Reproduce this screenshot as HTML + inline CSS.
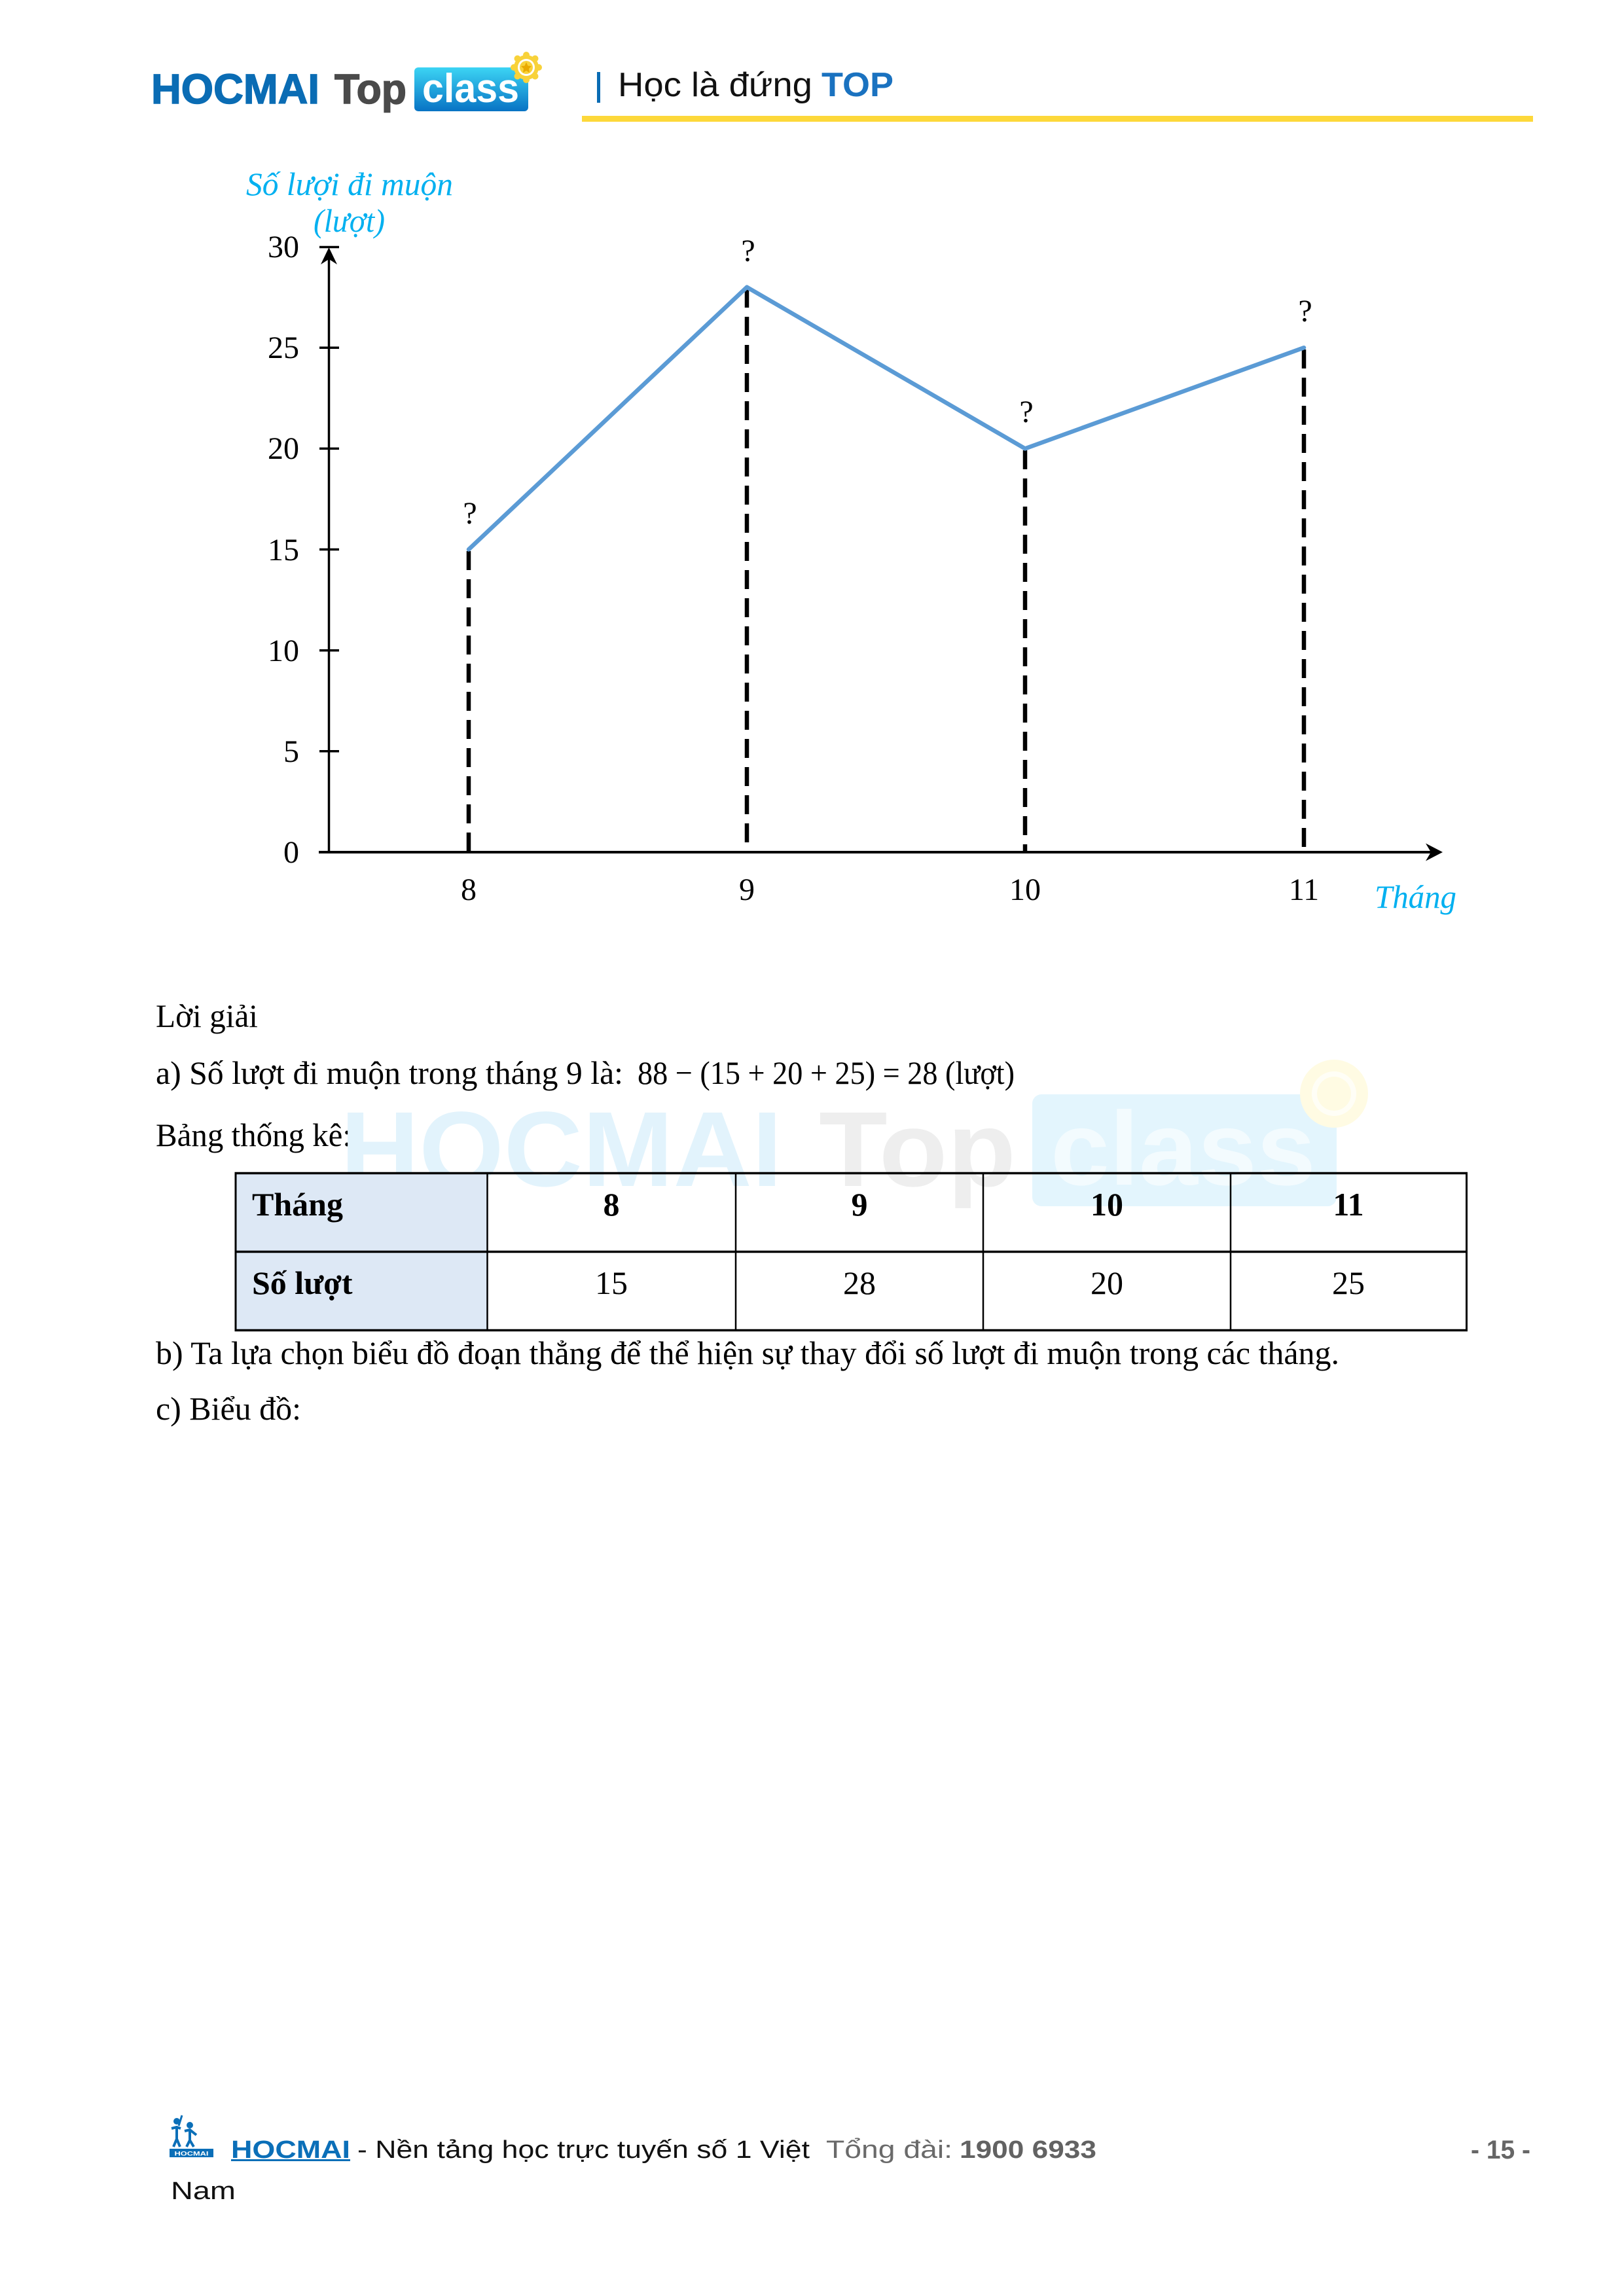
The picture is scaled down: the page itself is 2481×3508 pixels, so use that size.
<!DOCTYPE html>
<html>
<head>
<meta charset="utf-8">
<style>
html,body{margin:0;padding:0;background:#fff;}
svg{display:block;}
.serif{font-family:"Liberation Serif","Times New Roman",serif;}
.sans{font-family:"Liberation Sans",Arial,sans-serif;}
</style>
</head>
<body>
<svg width="2481" height="3508" viewBox="0 0 2481 3508" xmlns="http://www.w3.org/2000/svg">
<defs>
  <linearGradient id="cg" x1="0" y1="0" x2="0" y2="1">
    <stop offset="0" stop-color="#3cd4f4"/>
    <stop offset="1" stop-color="#0873c4"/>
  </linearGradient>
</defs>
<rect x="0" y="0" width="2481" height="3508" fill="#fff"/>

<!-- ===== Header ===== -->
<text class="sans" x="231" y="158" font-size="64" font-weight="bold" fill="#0a6cb4" stroke="#0a6cb4" stroke-width="1.5" textLength="257" lengthAdjust="spacingAndGlyphs">HOCMAI</text>
<text class="sans" x="511" y="158" font-size="64" font-weight="bold" fill="#4a4a4a" stroke="#4a4a4a" stroke-width="1.5" textLength="110" lengthAdjust="spacingAndGlyphs">Top</text>
<rect x="633" y="103" width="174" height="67" rx="6" fill="url(#cg)"/>
<text class="sans" x="645" y="156" font-size="62" font-weight="bold" fill="#fff" textLength="148" lengthAdjust="spacingAndGlyphs">class</text>
<g fill="#f8d23a">
  <circle cx="804" cy="103" r="19"/>
  <circle cx="804" cy="84" r="5"/><circle cx="804" cy="122" r="5"/>
  <circle cx="785" cy="103" r="5"/><circle cx="823" cy="103" r="5"/>
  <circle cx="790.5" cy="89.5" r="5"/><circle cx="817.5" cy="89.5" r="5"/>
  <circle cx="790.5" cy="116.5" r="5"/><circle cx="817.5" cy="116.5" r="5"/>
</g>
<circle cx="804" cy="103" r="13" fill="#fff"/>
<circle cx="804" cy="103" r="10" fill="#f8d23a"/>
<polygon points="804,95 806.5,100.5 812,101 808,105 809,111 804,108 799,111 800,105 796,101 801.5,100.5" fill="#e9a900"/>

<rect x="912" y="110" width="5" height="47" fill="#0a6cb4"/>
<text class="sans" x="944" y="147" font-size="52" fill="#111" textLength="297" lengthAdjust="spacingAndGlyphs">Học là đứng</text>
<text class="sans" x="1255" y="147" font-size="52" font-weight="bold" fill="#1a72c0" textLength="110" lengthAdjust="spacingAndGlyphs">TOP</text>
<rect x="889" y="177" width="1453" height="9" fill="#fdd83a"/>

<!-- ===== Chart ===== -->
<text class="serif" x="376" y="298" font-size="50" font-style="italic" fill="#00b0f0" textLength="316" lengthAdjust="spacingAndGlyphs">Số lượi đi muộn</text>
<text class="serif" x="479" y="354" font-size="50" font-style="italic" fill="#00b0f0" textLength="109" lengthAdjust="spacingAndGlyphs">(lượt)</text>

<!-- y axis -->
<line x1="502.5" y1="1302" x2="502.5" y2="384" stroke="#000" stroke-width="3.5"/>
<line x1="488" y1="377.5" x2="518" y2="377.5" stroke="#000" stroke-width="3.5"/>
<path d="M502.5,378 L515,404 L502.5,396 L490,404 Z" fill="#000"/>
<g stroke="#000" stroke-width="3.5">
  <line x1="488" y1="531.2" x2="518" y2="531.2"/>
  <line x1="488" y1="685.4" x2="518" y2="685.4"/>
  <line x1="488" y1="839.5" x2="518" y2="839.5"/>
  <line x1="488" y1="993.7" x2="518" y2="993.7"/>
  <line x1="488" y1="1147.8" x2="518" y2="1147.8"/>
</g>
<g class="serif" font-size="48" fill="#000" text-anchor="end">
  <text x="457" y="393">30</text>
  <text x="457" y="547">25</text>
  <text x="457" y="701">20</text>
  <text x="457" y="856">15</text>
  <text x="457" y="1010">10</text>
  <text x="457" y="1164">5</text>
  <text x="457" y="1318">0</text>
</g>

<!-- x axis -->
<line x1="487" y1="1302" x2="2200" y2="1302" stroke="#000" stroke-width="4"/>
<path d="M2204,1302 L2178,1288.5 L2186,1302 L2178,1315.5 Z" fill="#000"/>

<!-- dashed verticals -->
<g stroke="#000" stroke-width="6.5" stroke-dasharray="29 14" fill="none">
  <line x1="716" y1="842" x2="716" y2="1301"/>
  <line x1="1141" y1="441" x2="1141" y2="1301"/>
  <line x1="1566" y1="688" x2="1566" y2="1301"/>
  <line x1="1992" y1="534" x2="1992" y2="1301"/>
</g>

<!-- series -->
<polyline points="716,839.5 1141,438.7 1566,685.4 1992,531.2" fill="none" stroke="#5b9bd5" stroke-width="6.5" stroke-linejoin="round" stroke-linecap="round"/>

<g class="serif" font-size="48" fill="#000" text-anchor="middle">
  <text x="718" y="800">?</text>
  <text x="1143" y="399">?</text>
  <text x="1568" y="645">?</text>
  <text x="1994" y="491">?</text>
</g>

<g class="serif" font-size="48" fill="#000" text-anchor="middle">
  <text x="716" y="1375">8</text>
  <text x="1141" y="1375">9</text>
  <text x="1566" y="1375">10</text>
  <text x="1992" y="1375">11</text>
</g>
<text class="serif" x="2100" y="1387" font-size="50" font-style="italic" fill="#00b0f0" textLength="125" lengthAdjust="spacingAndGlyphs">Tháng</text>

<!-- ===== Body text ===== -->
<g class="serif" font-size="50" fill="#000">
  <text x="238" y="1569" textLength="156" lengthAdjust="spacingAndGlyphs">Lời giải</text>
  <text x="238" y="1656" textLength="714" lengthAdjust="spacingAndGlyphs">a) Số lượt đi muộn trong tháng 9 là:</text>
  <text x="974" y="1656" textLength="576" lengthAdjust="spacingAndGlyphs">88 − (15 + 20 + 25) = 28 (lượt)</text>
  <text x="238" y="1751" textLength="299" lengthAdjust="spacingAndGlyphs">Bảng thống kê:</text>
</g>

<!-- watermark -->
<g opacity="1">
  <text class="sans" x="520" y="1812" font-size="163" font-weight="bold" fill="#e2f3fc" textLength="675" lengthAdjust="spacingAndGlyphs">HOCMAI</text>
  <text class="sans" x="1251" y="1812" font-size="163" font-weight="bold" fill="#eeeeee" textLength="301" lengthAdjust="spacingAndGlyphs">Top</text>
  <rect x="1577" y="1672" width="465" height="171" rx="14" fill="#e3f5fd"/>
  <text class="sans" x="1605" y="1810" font-size="160" font-weight="bold" fill="#f3fbfe" textLength="405" lengthAdjust="spacingAndGlyphs">class</text>
  <circle cx="2038" cy="1671" r="52" fill="#fffbe3"/>
  <circle cx="2038" cy="1671" r="34" fill="#fffef6"/>
  <circle cx="2038" cy="1671" r="26" fill="#fffbe3"/>
</g>

<!-- ===== Table ===== -->
<rect x="360" y="1792" width="384" height="241" fill="#dde8f5"/>
<g stroke="#000" fill="none">
  <line x1="358.5" y1="1792.5" x2="2242" y2="1792.5" stroke-width="3.5"/>
  <line x1="358.5" y1="1912.5" x2="2242" y2="1912.5" stroke-width="3.5"/>
  <line x1="358.5" y1="2032.5" x2="2242" y2="2032.5" stroke-width="3.5"/>
  <line x1="360" y1="1791" x2="360" y2="2034" stroke-width="3"/>
  <line x1="744.5" y1="1791" x2="744.5" y2="2034" stroke-width="2.5"/>
  <line x1="1124" y1="1791" x2="1124" y2="2034" stroke-width="2.5"/>
  <line x1="1502" y1="1791" x2="1502" y2="2034" stroke-width="2.5"/>
  <line x1="1880" y1="1791" x2="1880" y2="2034" stroke-width="2.5"/>
  <line x1="2240.5" y1="1791" x2="2240.5" y2="2034" stroke-width="3"/>
</g>
<g class="serif" font-size="50" fill="#000">
  <text x="385" y="1857" font-weight="bold">Tháng</text>
  <text x="385" y="1977" font-weight="bold">Số lượt</text>
</g>
<g class="serif" font-size="50" fill="#000" text-anchor="middle">
  <text x="934" y="1857" font-weight="bold">8</text>
  <text x="1313" y="1857" font-weight="bold">9</text>
  <text x="1691" y="1857" font-weight="bold">10</text>
  <text x="2060" y="1857" font-weight="bold">11</text>
  <text x="934" y="1977">15</text>
  <text x="1313" y="1977">28</text>
  <text x="1691" y="1977">20</text>
  <text x="2060" y="1977">25</text>
</g>

<g class="serif" font-size="50" fill="#000">
  <text x="238" y="2084" textLength="1808" lengthAdjust="spacingAndGlyphs">b) Ta lựa chọn biểu đồ đoạn thẳng để thể hiện sự thay đổi số lượt đi muộn trong các tháng.</text>
  <text x="238" y="2169" textLength="222" lengthAdjust="spacingAndGlyphs">c) Biểu đồ:</text>
</g>

<!-- ===== Footer ===== -->
<g fill="#0b6fb8" stroke="#0b6fb8">
  <circle cx="270" cy="3241" r="5" stroke="none"/>
  <circle cx="290" cy="3247" r="5" stroke="none"/>
  <path d="M262,3252 L270,3250 L276,3252 M270,3250 L270,3268 L265,3280 M270,3268 L275,3280" stroke-width="4" fill="none"/>
  <path d="M282,3256 L290,3254 L300,3262 M290,3254 L290,3270 L285,3280 M290,3270 L296,3280" stroke-width="4" fill="none"/>
  <path d="M278,3232 L273,3248" stroke-width="3" fill="none"/>
  <rect x="259" y="3283" width="67" height="13" stroke="none"/>
</g>
<text class="sans" x="292.5" y="3293.5" font-size="9" fill="#fff" text-anchor="middle" font-weight="bold" textLength="52" lengthAdjust="spacingAndGlyphs">HOCMAI</text>

<text class="sans" x="353" y="3297" font-size="38" font-weight="bold" fill="#0b6fb8" textLength="182" lengthAdjust="spacingAndGlyphs">HOCMAI</text>
<rect x="353" y="3299" width="182" height="3" fill="#0b6fb8"/>
<text class="sans" x="546" y="3297" font-size="38" fill="#111" textLength="691" lengthAdjust="spacingAndGlyphs">- Nền tảng học trực tuyến số 1 Việt</text>
<text class="sans" x="1262" y="3297" font-size="38" fill="#6a6a6a" textLength="193" lengthAdjust="spacingAndGlyphs">Tổng đài:</text>
<text class="sans" x="1466" y="3297" font-size="38" font-weight="bold" fill="#626262" textLength="209" lengthAdjust="spacingAndGlyphs">1900 6933</text>
<text class="sans" x="261" y="3360" font-size="38" fill="#111" textLength="99" lengthAdjust="spacingAndGlyphs">Nam</text>

<text class="sans" x="2247" y="3298" font-size="40" font-weight="bold" fill="#666" textLength="91" lengthAdjust="spacingAndGlyphs">- 15 -</text>
</svg>
</body>
</html>
